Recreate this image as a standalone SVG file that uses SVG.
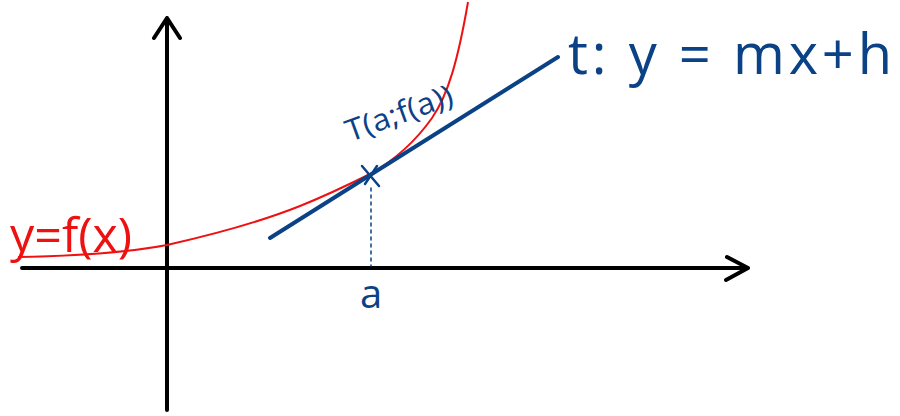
<svg xmlns="http://www.w3.org/2000/svg" width="900" height="416" viewBox="0 0 900 416">
<style>
.ax{stroke:#000;stroke-width:4;fill:none;stroke-linecap:round;stroke-linejoin:round}
.red{stroke:#ee1111;stroke-width:2;fill:none}
.blue{stroke:#0b4286;fill:none;stroke-linecap:round}
.bt{fill:#0b4286;font-family:"Open Sans","DejaVu Sans",sans-serif}
.rt{fill:#ee1111;font-family:"Open Sans","DejaVu Sans",sans-serif}
</style>
<rect width="900" height="416" fill="#fff"/>
<g id="axes">
<path class="ax" d="M22,268 L748,268 M727,257 L748,268 L726,280"/>
<path class="ax" d="M167,410 L167,18 M154,38 L167,18 L180,38"/>
</g>
<g id="curve">
<path class="red" d="M18,257 C80,256 130,252 167,245 C220,233 260,222 300,206 C330,194 350,184 370,174 C395,160 415,142 432,118 C448,95 458,60 468,2"/>
<text class="rt" x="10" y="252" font-size="48" textLength="122" lengthAdjust="spacingAndGlyphs">y=f(x)</text>
</g>
<g id="tangent">
<path class="blue" stroke-width="4" d="M270,238 L558,57"/>
<text class="bt" x="568" y="74" font-size="56" textLength="324" lengthAdjust="spacing">t: y = mx+h</text>
</g>
<g id="point">
<path class="blue" stroke-width="2.5" d="M362,166 L379,186 M377,166 L365,184"/>
<path class="blue" stroke-width="1.5" stroke-dasharray="3,4" d="M371,188 L371,266"/>
<text class="bt" x="350" y="142" font-size="30" textLength="112" lengthAdjust="spacingAndGlyphs" transform="rotate(-20 350 142)">T(a;f(a))</text>
</g>
<g id="label-a">
<text class="bt" x="360" y="308" font-size="40">a</text>
</g>
</svg>
